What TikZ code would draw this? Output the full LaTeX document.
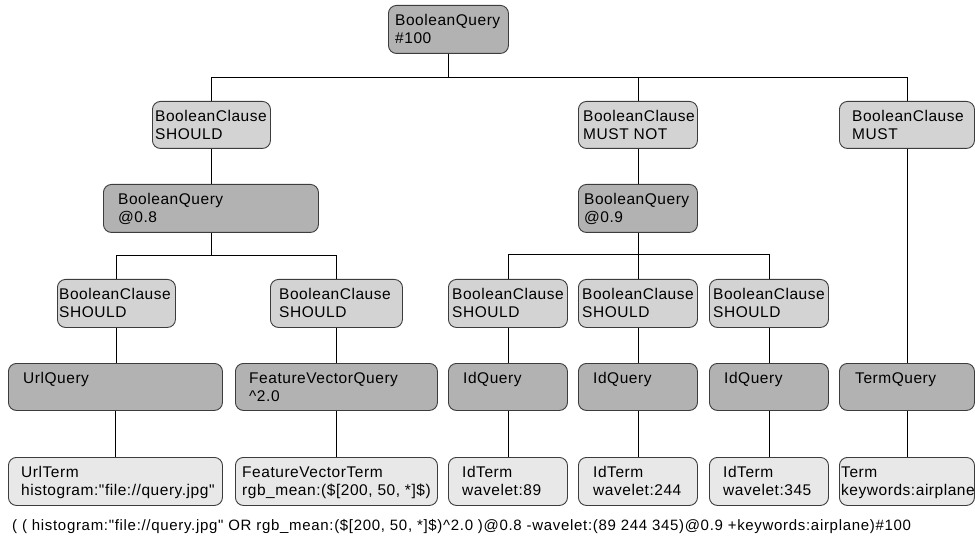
\documentclass[tikz,border=0pt]{standalone}
\usepackage{fontspec}
\setmainfont{Liberation Sans}
\newfontfamily\lsans{Liberation Sans}[LetterSpace=3.5]
\newfontfamily\lsansq{Liberation Sans}[LetterSpace=4.6]
\definecolor{qdark}{HTML}{B2B2B2}
\definecolor{qmid}{HTML}{D3D3D3}
\definecolor{qlight}{HTML}{E8E8E8}
\definecolor{qedge}{HTML}{3C3C3C}
\tikzset{
  boxbase/.style={draw=qedge, line width=0.9pt, rounded corners=8pt, inner sep=0pt, rectangle},
  qbox/.style={boxbase, fill=qdark},
  cbox/.style={boxbase, fill=qmid},
  tbox/.style={boxbase, fill=qlight},
  txt/.style={inner sep=0pt, align=left, font=\lsans\fontsize{15.5}{18}\selectfont},
  conn/.style={draw=black, line width=0.9pt},
}
\newcommand{\bx}[8]{%
  \node[#2, minimum width=#5pt, minimum height=#6pt, anchor=north west] (#1) at (#3,#4) {};
  \node[txt, anchor=north west] (#1t) at ([xshift=#7pt, yshift=-9.5pt]#1.north west) {#8};
}
\begin{document}
\begin{tikzpicture}[x=1pt, y=-1pt]
\useasboundingbox (0,0) rectangle (975,540);
% level 1
\bx{root}{qbox}{388}{5}{120}{48}{7}{BooleanQuery\\\#100}
% level 2
\bx{cl}{cbox}{152}{101}{118}{47}{3}{BooleanClause\\SHOULD}
\bx{cm}{cbox}{578}{101}{119}{47}{5}{BooleanClause\\MUST NOT}
\bx{cr}{cbox}{839}{101}{135}{47}{13}{BooleanClause\\MUST}
% level 3
\bx{bql}{qbox}{103}{184}{215}{48}{15}{BooleanQuery\\@0.8}
\bx{bqm}{qbox}{578}{184}{119}{48}{6}{BooleanQuery\\@0.9}
% level 4
\bx{ca}{cbox}{57}{279}{118}{48}{2}{BooleanClause\\SHOULD}
\bx{cb}{cbox}{270}{279}{132}{48}{9}{BooleanClause\\SHOULD}
\bx{cc}{cbox}{448}{279}{119}{48}{4}{BooleanClause\\SHOULD}
\bx{cd}{cbox}{578}{279}{119}{48}{4}{BooleanClause\\SHOULD}
\bx{ce}{cbox}{709}{279}{119}{48}{4}{BooleanClause\\SHOULD}
% level 5
\bx{uq}{qbox}{8}{363}{214}{47}{15}{UrlQuery}
\bx{fq}{qbox}{235}{363}{202}{47}{14}{FeatureVectorQuery\\\textasciicircum 2.0}
\bx{iq1}{qbox}{448}{363}{119}{47}{15}{IdQuery}
\bx{iq2}{qbox}{578}{363}{119}{47}{15}{IdQuery}
\bx{iq3}{qbox}{709}{363}{119}{47}{15}{IdQuery}
\bx{tq}{qbox}{839}{363}{135}{47}{16}{TermQuery}
% level 6
\bx{ut}{tbox}{8}{457}{214}{48}{13}{UrlTerm\\histogram:"file://query.jpg"}
\bx{ft}{tbox}{235}{457}{202}{48}{7}{FeatureVectorTerm\\rgb\_mean:(\$[200, 50, *]\$)}
\bx{it1}{tbox}{448}{457}{119}{48}{14}{IdTerm\\wavelet:89}
\bx{it2}{tbox}{578}{457}{119}{48}{15}{IdTerm\\wavelet:244}
\bx{it3}{tbox}{709}{457}{119}{48}{14}{IdTerm\\wavelet:345}
\bx{tt}{tbox}{839}{457}{135}{48}{2}{Term\\keywords:airplane}
% connectors
\path[conn] (root.south) -- ++(0,24) -| (cl.north);
\path[conn] (root.south) -- ++(0,24) -| (cm.north);
\path[conn] (root.south) -- ++(0,24) -| (cr.north);
\path[conn] (cl.south) -- (cl.south |- bql.north);
\path[conn] (cm.south) -- (cm.south |- bqm.north);
\path[conn] (cr.south) -- (cr.south |- tq.north);
\path[conn] (bql.south) -- ++(0,23) -| (ca.north);
\path[conn] (bql.south) -- ++(0,23) -| (cb.north);
\path[conn] (bqm.south) -- ++(0,22) -| (cc.north);
\path[conn] (bqm.south) -- ++(0,22) -| (cd.north);
\path[conn] (bqm.south) -- ++(0,22) -| (ce.north);
\path[conn] (ca.south) -- (ca.south |- uq.north);
\path[conn] (cb.south) -- (cb.south |- fq.north);
\path[conn] (cc.south) -- (iq1.north);
\path[conn] (cd.south) -- (iq2.north);
\path[conn] (ce.south) -- (iq3.north);
\path[conn] (uq.south) -- (ut.north);
\path[conn] (fq.south) -- (ft.north);
\path[conn] (iq1.south) -- (it1.north);
\path[conn] (iq2.south) -- (it2.north);
\path[conn] (iq3.south) -- (it3.north);
\path[conn] (tq.south) -- (tt.north);
% query string
\node[inner sep=0pt, anchor=base west, font=\lsansq\fontsize{15}{18}\selectfont] (qs) at (12,530) {( ( histogram:"file://query.jpg" OR rgb\_mean:(\$[200, 50, *]\$)\textasciicircum 2.0 )@0.8 -wavelet:(89 244 345)@0.9 +keywords:airplane)\#100};
\end{tikzpicture}
\end{document}
